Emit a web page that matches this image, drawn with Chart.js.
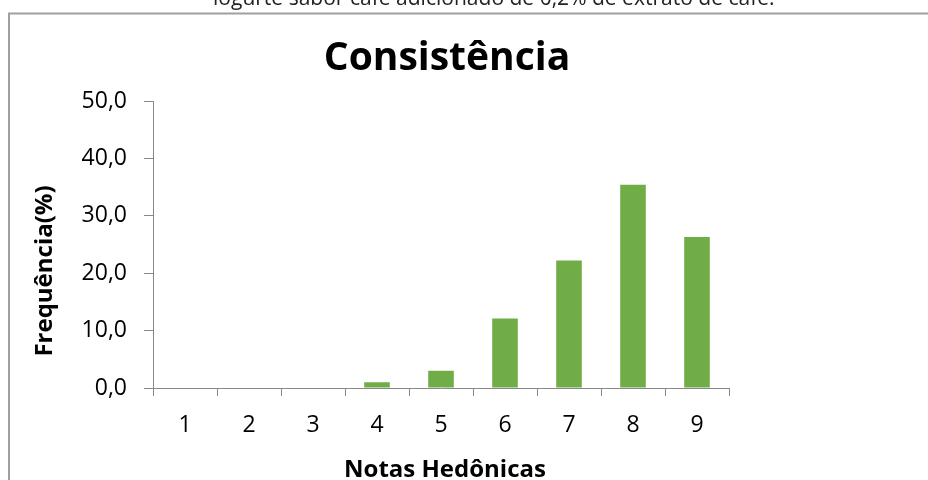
<!DOCTYPE html>
<html>
<head>
<meta charset="utf-8">
<script src="https://cdn.jsdelivr.net/npm/chart.js@4.4.1/dist/chart.umd.min.js"></script>
<style>
  html, body { margin: 0; padding: 0; background: #fff; overflow: hidden; }
  #wrap { position: relative; width: 928px; height: 480px; overflow: hidden; }
  #cut { position: absolute; left: 213px; top: 0; white-space: nowrap;
         font-family: "Open Sans", sans-serif; color: #222; }
  canvas { position: absolute; left: 0; top: 0; }
</style>
</head>
<body>
<div id="wrap">
  <canvas id="c" width="928" height="480"></canvas>
  <div id="cut">iogurte sabor café adicionado de 0,2% de extrato de café.</div>
</div>
<script>
const categories = ['1', '2', '3', '4', '5', '6', '7', '8', '9'];
const frequency = [0, 0, 0, 1.0, 3.0, 12.1, 22.2, 35.4, 26.3];
const yTickLabels = ['0,0', '10,0', '20,0', '30,0', '40,0', '50,0'];
const chartTitle = 'Consistência';
const xTitle = 'Notas Hedônicas';
const yTitle = 'Frequência(%)';

// fit the cropped caption line
(function () {
  const el = document.getElementById('cut');
  const target = 562;
  let fs = 22;
  el.style.fontSize = fs + 'px';
  const w = el.getBoundingClientRect().width;
  fs = fs * target / w;
  el.style.fontSize = fs + 'px';
  el.style.lineHeight = '1';
  el.style.top = (5 - fs * 0.85) + 'px';
})();

const FONT = '"Open Sans", sans-serif';

const framePlugin = {
  id: 'framePlugin',
  beforeDraw(chart) {
    const ctx = chart.ctx;
    ctx.save();
    ctx.strokeStyle = '#a0a0a0';
    ctx.lineWidth = 2;
    ctx.beginPath();
    ctx.moveTo(9, 480);
    ctx.lineTo(9, 13.5);
    ctx.lineTo(928, 13.5);
    ctx.stroke();
    ctx.restore();
  }
};

const titlesPlugin = {
  id: 'titlesPlugin',
  afterDraw(chart) {
    const ctx = chart.ctx;
    ctx.save();
    ctx.fillStyle = '#000';
    ctx.textAlign = 'center';
    ctx.textBaseline = 'alphabetic';
    ctx.font = 'bold 39px ' + FONT;
    ctx.fillText(chartTitle, 447, 70);
    ctx.font = 'bold 24px ' + FONT;
    ctx.fillText(xTitle, 445, 477);
    ctx.translate(52, 271);
    ctx.rotate(-Math.PI / 2);
    ctx.fillText(yTitle, 0, 0);
    ctx.restore();
  }
};

new Chart(document.getElementById('c'), {
  type: 'bar',
  data: {
    labels: categories,
    datasets: [{
      data: frequency,
      backgroundColor: '#70AD47',
      borderWidth: 0,
      barPercentage: 0.4,
      categoryPercentage: 1.0
    }]
  },
  options: {
    responsive: false,
    animation: false,
    devicePixelRatio: 1,
    layout: { padding: { left: 0, top: 101, right: 199, bottom: 0 } },
    plugins: { legend: { display: false }, tooltip: { enabled: false }, title: { display: false } },
    scales: {
      x: {
        grid: { display: true, drawOnChartArea: false, drawTicks: true, tickLength: 8, color: '#888888', offset: true },
        border: { display: true, color: '#888888', width: 1 },
        ticks: { color: '#000', font: { family: FONT, size: 23 }, padding: 16, maxRotation: 0 },
        afterFit(scale) { scale.height = 92; }
      },
      y: {
        min: 0, max: 50,
        grid: { display: true, drawOnChartArea: false, drawTicks: true, tickLength: 9, color: '#888888' },
        border: { display: true, color: '#888888', width: 1 },
        ticks: {
          stepSize: 10, color: '#000', font: { family: FONT, size: 23 }, padding: 17,
          callback: (v, i) => yTickLabels[i]
        },
        afterFit(scale) { scale.width = 153; }
      }
    }
  },
  plugins: [framePlugin, titlesPlugin]
});
</script>
</body>
</html>
